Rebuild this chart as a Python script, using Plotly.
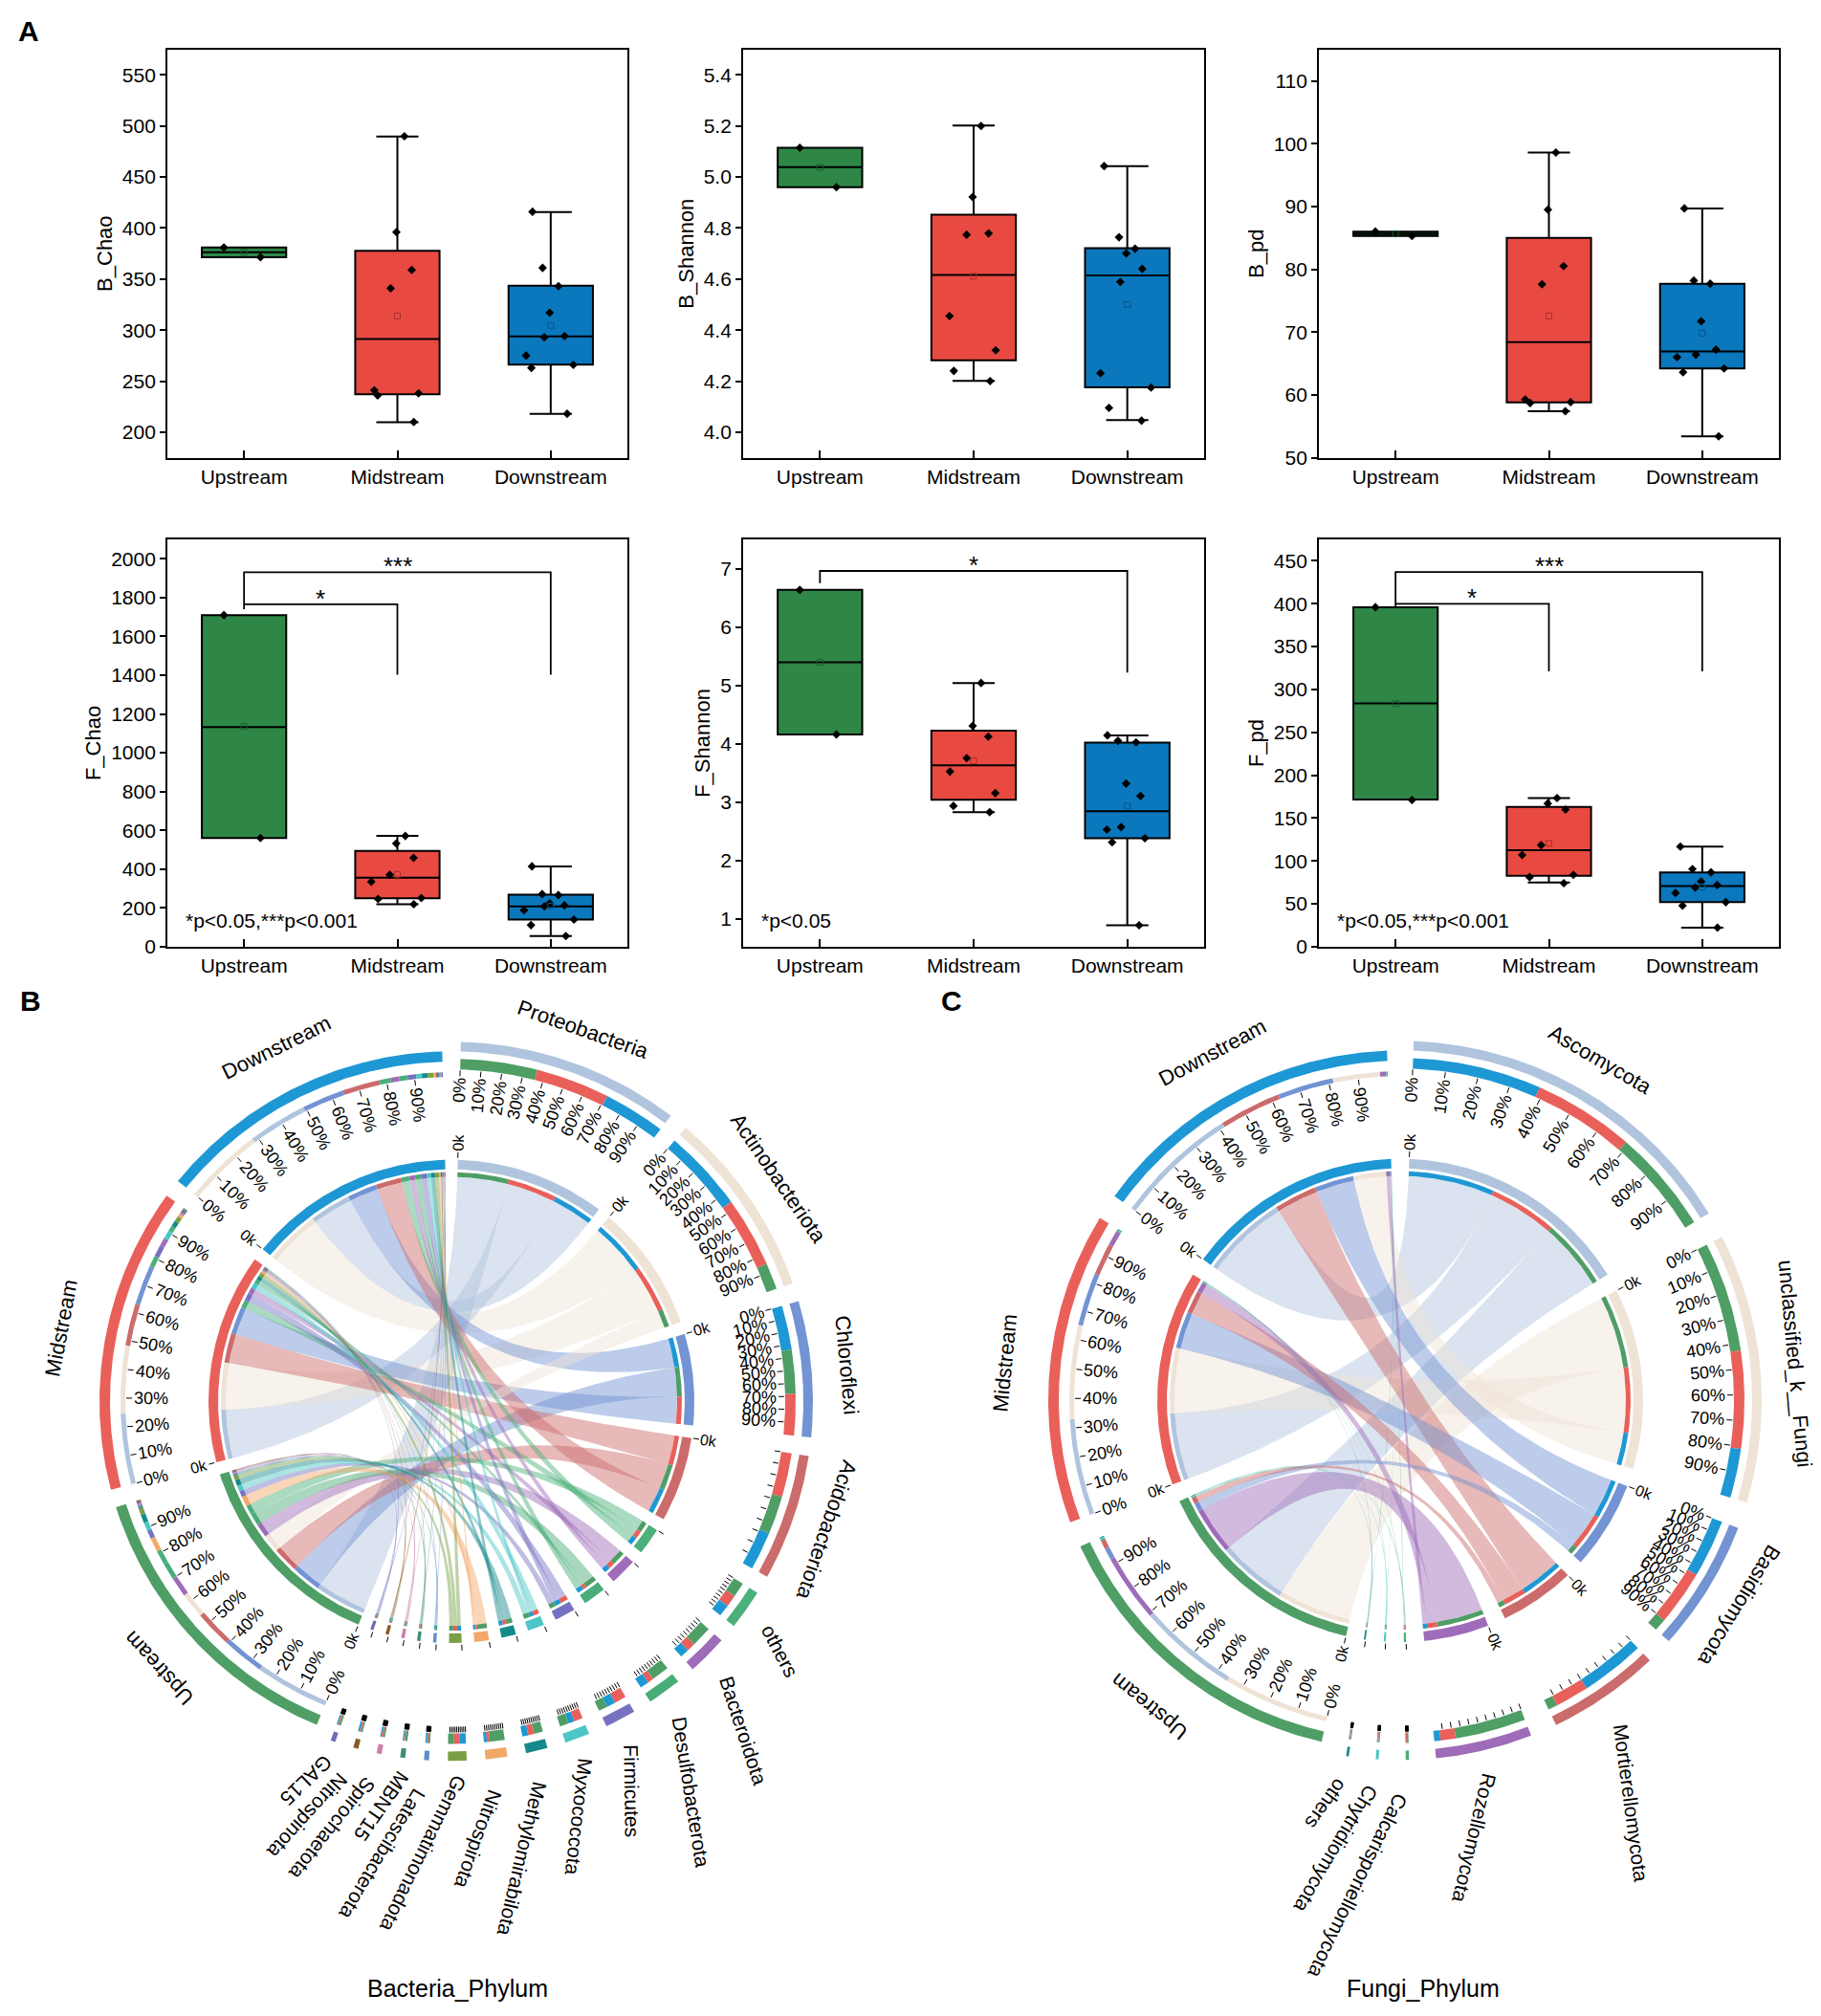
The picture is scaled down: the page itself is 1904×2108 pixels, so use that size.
import numpy as np
import plotly.graph_objects as go

W, H = 1904, 2108
FONT = "Liberation Sans, Arial, Helvetica, sans-serif"

groups = ["Upstream", "Midstream", "Downstream"]
box_fill = ["#2e8746", "#e84a42", "#0b77bc"]
mean_edge = ["#1c5c2e", "#a8302a", "#07568a"]

# ---------------- A: alpha diversity ----------------
# points per group
b_chao_pts = [[381.0, 371.5],
              [490, 396, 359, 341, 238, 236, 241, 210],
              [416, 361, 343, 317, 293, 294, 275, 263, 266, 218]]
# q1, median, q3, lower whisker, upper whisker
b_chao_box = [[371.5, 376.3, 381.0, 371.5, 381.0],
              [237.2, 291.3, 377.7, 209.8, 489.7],
              [266.1, 293.8, 343.5, 218.0, 415.7]]

b_shannon_pts = [[5.115, 4.96],
                 [5.20, 4.922, 4.774, 4.779, 4.455, 4.321, 4.24, 4.20],
                 [5.043, 4.764, 4.719, 4.701, 4.64, 4.589, 4.231, 4.175, 4.095, 4.045]]
b_shannon_box = [[4.96, 5.039, 5.115, 4.96, 5.115],
                 [4.282, 4.616, 4.852, 4.201, 5.202],
                 [4.176, 4.614, 4.721, 4.047, 5.043]]

b_pd_pts = [[86.0, 85.3],
            [98.6, 89.5, 80.5, 77.6, 59.25, 58.85, 58.7, 57.4],
            [89.7, 78.2, 77.7, 71.7, 67.2, 66.4, 66.0, 64.2, 63.6, 53.4]]
b_pd_box = [[85.3, 85.65, 86.0, 85.3, 86.0],
            [58.8, 68.4, 85.0, 57.4, 98.6],
            [64.2, 66.9, 77.7, 53.4, 89.7]]

f_chao_pts = [[1710, 560],
              [571, 532, 458, 371, 335, 246, 251, 219],
              [414, 271, 266, 224, 213, 208, 188, 140, 111, 55]]
f_chao_box = [[560, 1132, 1710, 560, 1710],
              [249, 355, 494, 219, 571],
              [140, 208, 268, 55, 414]]

f_shannon_pts = [[6.635, 4.158],
                 [5.04, 4.305, 4.12, 3.75, 3.52, 3.151, 2.933, 2.824],
                 [4.142, 4.049, 4.022, 3.315, 3.102, 2.569, 2.525, 2.378, 2.308, 0.887]]
f_shannon_box = [[4.158, 5.394, 6.635, 4.158, 6.635],
                 [3.04, 3.63, 4.224, 2.824, 5.04],
                 [2.378, 2.841, 4.017, 0.887, 4.142]]

f_pd_pts = [[396, 171],
            [173.3, 167, 160, 118.5, 107, 83.7, 81.1, 74.1],
            [116.7, 90.4, 86.7, 75.9, 71.9, 68.9, 62.6, 51.9, 47.8, 22.2]]
f_pd_box = [[171.5, 283.7, 395.9, 171.5, 395.9],
            [82.6, 112.6, 163, 74.8, 173.3],
            [51.9, 70.7, 86.7, 22.2, 116.7]]

# significance brackets: group a, group b, bar level, left leg end, right leg end, label
f_chao_sig = [(0, 2, 1931, 1740, 1402, "***"), (0, 1, 1766, 1766, 1402, "*")]
f_shannon_sig = [(0, 2, 6.96, 6.75, 5.22, "*")]
f_pd_sig = [(0, 2, 437, 396, 321, "***"), (0, 1, 400, 400, 321, "*")]

# ---------------- B: bacteria phylum relative abundance (%) ----------------
bac_phyla = ["Proteobacteria", "Actinobacteriota", "Chloroflexi", "Acidobacteriota", "others",
             "Bacteroidota", "Desulfobacterota", "Firmicutes", "Myxococcota", "Methylomirabilota",
             "Nitrospirota", "Gemmatimonadota", "Latescibacterota", "MBNT15", "Spirochaetota",
             "Nitrospinota", "GAL15"]
bac_up = [26, 9, 15, 13, 5, 7, 6, 3, 3, 3, 5, 2, 0.6, 0.8, 0.6, 0.5, 0.6]
bac_mid = [25, 24, 14, 15, 4, 3, 2, 4, 3, 2, 1, 2, 0.5, 0.4, 0.6, 0.5, 0.5]
bac_down = [21, 28, 15, 13, 4, 3, 3, 3, 2, 2, 1, 2, 0.5, 0.4, 0.4, 0.6, 0.4]
bac_colors = ["#b0c4de", "#efe3d6", "#7393d3", "#cc6b6b", "#4bb07a", "#9e6cb8", "#48ad78",
              "#7672c2", "#4cc6c6", "#16898a", "#f2a868", "#7aa044", "#5d8fc9", "#3e8e6e",
              "#c97fa9", "#8b5a2b", "#6b6bb8"]
bac_link_order = ["UMD", "DMU", "DUM", "MUD", "UMD", "UMD", "UMD", "MDU", "MDU", "UMD",
                  "UMD", "DMU", "UMD", "UMD", "UMD", "UMD", "UMD"]

# ---------------- C: fungi phylum relative abundance (%) ----------------
fun_phyla = ["Ascomycota", "unclassified_k__Fungi", "Basidiomycota", "Mortierellomycota",
             "Rozellomycota", "Calcarisporiellomycota", "Chytridiomycota", "others"]
fun_up = [34, 36, 4, 3, 23, 0.5, 0.4, 0.3]
fun_mid = [33, 32, 18, 11, 5, 0.3, 0.3, 0.3]
fun_down = [42, 16, 19, 21, 2, 0.2, 0.2, 0.2]
fun_colors = ["#b0c4de", "#efe3d6", "#7393d3", "#cc6b6b", "#9e6cb8", "#4bb07a", "#4cc6c6", "#16898a"]
fun_link_order = ["DMU", "UMD", "DMU", "DMU", "UMD", "UMD", "UMD", "UMD"]

grp_chord_colors = ["#4e9e66", "#e9605a", "#1e98d4"]

fig = go.Figure()
annos = []
shapes = []


def fx(x):
    return x / W


def fy(y):
    return 1 - y / H


# ---------------- box plots ----------------
col_px = [(167, 648), (769, 1251), (1371, 1852)]
row_px = [(44, 473), (559, 987)]

note2 = "*p&lt;0.05,***p&lt;0.001"
panels = [
    dict(t="B_Chao", pts=b_chao_pts, box=b_chao_box, rng=[175, 575], t0=200, dt=50, fmt="", sig=[], note=None),
    dict(t="B_Shannon", pts=b_shannon_pts, box=b_shannon_box, rng=[3.9, 5.5], t0=4.0, dt=0.2, fmt=".1f", sig=[], note=None),
    dict(t="B_pd", pts=b_pd_pts, box=b_pd_box, rng=[50, 115], t0=50, dt=10, fmt="", sig=[], note=None),
    dict(t="F_Chao", pts=f_chao_pts, box=f_chao_box, rng=[0, 2100], t0=0, dt=200, fmt="", sig=f_chao_sig, note=note2),
    dict(t="F_Shannon", pts=f_shannon_pts, box=f_shannon_box, rng=[0.52, 7.5], t0=1, dt=1, fmt="", sig=f_shannon_sig, note="*p&lt;0.05"),
    dict(t="F_pd", pts=f_pd_pts, box=f_pd_box, rng=[0, 475], t0=0, dt=50, fmt="", sig=f_pd_sig, note=note2),
]

layout_axes = {}
for k, p in enumerate(panels):
    r, c = divmod(k, 3)
    n = k + 1
    xa = "x" if n == 1 else f"x{n}"
    ya = "y" if n == 1 else f"y{n}"
    for i in range(3):
        q1, med, q3, lo, hi = p["box"][i]
        fig.add_trace(go.Box(
            x=[i], q1=[q1], median=[med], q3=[q3], lowerfence=[lo], upperfence=[hi],
            y=[p["pts"][i]], orientation="v", boxpoints="all", jitter=0.75, pointpos=0,
            width=0.55, whiskerwidth=0.5, fillcolor=box_fill[i],
            line=dict(color="black", width=2),
            marker=dict(symbol="diamond", size=7, color="black", line=dict(width=0)),
            xaxis=xa, yaxis=ya, showlegend=False, hoverinfo="skip"))
        fig.add_trace(go.Scatter(
            x=[i], y=[float(np.mean(p["pts"][i]))], mode="markers",
            marker=dict(symbol="square-open", size=6, color=mean_edge[i], line=dict(width=1)),
            xaxis=xa, yaxis=ya, showlegend=False, hoverinfo="skip"))

    x0p, x1p = col_px[c]
    y0p, y1p = row_px[r]
    layout_axes["xaxis" if n == 1 else f"xaxis{n}"] = dict(
        domain=[fx(x0p), fx(x1p)], anchor=ya, range=[-0.5, 2.5],
        tickmode="array", tickvals=[0, 1, 2], ticktext=groups,
        ticks="inside", ticklen=8, tickwidth=1.5, tickcolor="black",
        showline=True, mirror=True, linecolor="black", linewidth=1.8,
        showgrid=False, zeroline=False, tickfont=dict(size=21, color="black"))
    layout_axes["yaxis" if n == 1 else f"yaxis{n}"] = dict(
        domain=[fy(y1p), fy(y0p)], anchor=xa, range=p["rng"],
        tick0=p["t0"], dtick=p["dt"], tickformat=p["fmt"],
        ticks="outside", ticklen=6, tickwidth=1.5, tickcolor="black",
        showline=True, mirror=True, linecolor="black", linewidth=1.8,
        showgrid=False, zeroline=False, tickfont=dict(size=21, color="black"),
        title=dict(text=p["t"], font=dict(size=22, color="black"), standoff=4))

    for (a, b, yl, yle, yre, lab) in p["sig"]:
        shapes.append(dict(type="path", xref=xa, yref=ya,
                           path=f"M {a},{yle} L {a},{yl} L {b},{yl} L {b},{yre}",
                           line=dict(color="black", width=1.8)))
        annos.append(dict(x=(a + b) / 2, y=yl, xref=xa, yref=ya, text=lab, showarrow=False,
                          xanchor="center", yanchor="middle", yshift=6,
                          font=dict(size=26, color="black")))
    if p["note"]:
        annos.append(dict(x=0.035, y=0.065, xref=f"{xa} domain", yref=f"{ya} domain",
                          text=p["note"], showarrow=False, xanchor="left", yanchor="middle",
                          font=dict(size=21, color="black")))

# ---------------- chord diagrams ----------------
R_OUT_P = (368, 378)
R_OUT_S = (357, 368)
R_COMP_P = (349, 360)
R_COMP_S = (341, 346)
R_IN = (244, 254)
R_STRIPE = (236, 241)
R_LINK = 236
LETTER = {"U": 0, "M": 1, "D": 2}


def hex_rgba(h, a):
    h = h.lstrip("#")
    return f"rgba({int(h[0:2], 16)},{int(h[2:4], 16)},{int(h[4:6], 16)},{a})"


def pol(r, t):
    tr = np.radians(t)
    return r * np.sin(tr), r * np.cos(tr)


def arc(r, t0, t1):
    m = max(2, int(abs(t1 - t0) / 0.4) + 2)
    t = np.radians(np.linspace(t0, t1, m))
    return r * np.sin(t), r * np.cos(t)


def band(r0, r1, t0, t1):
    xo, yo = arc(r1, t0, t1)
    xi, yi = arc(r0, t1, t0)
    return np.r_[xo, xi, xo[:1]], np.r_[yo, yi, yo[:1]]


def ribbon(r, a1, a2, b1, b2):
    xa_, ya_ = arc(r, a1, a2)
    xb_, yb_ = arc(r, b1, b2)
    t = np.linspace(0, 1, 50)
    # quadratic bezier through the centre
    c1x = (1 - t) ** 2 * xa_[-1] + t ** 2 * xb_[0]
    c1y = (1 - t) ** 2 * ya_[-1] + t ** 2 * yb_[0]
    c2x = (1 - t) ** 2 * xb_[-1] + t ** 2 * xa_[0]
    c2y = (1 - t) ** 2 * yb_[-1] + t ** 2 * ya_[0]
    return np.r_[xa_, c1x, xb_, c2x], np.r_[ya_, c1y, yb_, c2y]


def poly(xa, ya, xs, ys, color):
    fig.add_trace(go.Scatter(x=xs, y=ys, mode="lines", fill="toself", fillcolor=color,
                             line=dict(width=0), hoverinfo="skip", showlegend=False,
                             xaxis=xa, yaxis=ya))


def norm(a):
    return ((a + 180) % 360) - 180


def radial_rot(t):
    t = t % 360
    return t - 90 if t < 180 else t - 270


def text(xa, ya, x, y, s, ang, size):
    annos.append(dict(x=x, y=y, xref=xa, yref=ya, text=s, showarrow=False,
                      xanchor="center", yanchor="middle", textangle=norm(ang),
                      font=dict(size=size, color="black")))


def draw_chord(xa, ya, phyla, rows, phy_cols, link_order, gap, n_pct, n_zero, n_tan):
    mat = np.array(rows, dtype=float)
    nP = len(phyla)
    names = phyla + groups
    widths = list(mat.sum(axis=0)) + list(mat.sum(axis=1))
    n = len(names)
    k = (360 - n * gap) / sum(widths)
    starts, ends = [], []
    cur = gap / 2
    for w in widths:
        starts.append(cur)
        ends.append(cur + w * k)
        cur = ends[-1] + gap

    p_slot = {}
    for j in range(nP):
        cur = starts[j]
        for ch in link_order[j]:
            g = LETTER[ch]
            w = mat[g, j] * k
            p_slot[(g, j)] = (cur, cur + w)
            cur += w
    s_slot = {}
    for g in range(3):
        cur = starts[nP + g]
        for j in sorted(range(nP), key=lambda jj: -mat[g, jj]):
            w = mat[g, j] * k
            s_slot[(g, j)] = (cur, cur + w)
            cur += w

    # ribbons, big first so small ones stay visible
    pairs = sorted(((g, j) for g in range(3) for j in range(nP)), key=lambda gj: -mat[gj])
    for g, j in pairs:
        a1, a2 = s_slot[(g, j)]
        b1, b2 = p_slot[(g, j)]
        xs, ys = ribbon(R_LINK, a1, a2, b1, b2)
        poly(xa, ya, xs, ys, hex_rgba(phy_cols[j], 0.47))

    # sector tracks
    for idx in range(n):
        isp = idx < nP
        col = phy_cols[idx] if isp else grp_chord_colors[idx - nP]
        ro = R_OUT_P if isp else R_OUT_S
        xs, ys = band(ro[0], ro[1], starts[idx], ends[idx])
        poly(xa, ya, xs, ys, col)
        xs, ys = band(R_IN[0], R_IN[1], starts[idx], ends[idx])
        poly(xa, ya, xs, ys, col)
    for (g, j), (b1, b2) in p_slot.items():
        xs, ys = band(R_COMP_P[0], R_COMP_P[1], b1, b2)
        poly(xa, ya, xs, ys, grp_chord_colors[g])
        xs, ys = band(R_STRIPE[0], R_STRIPE[1], b1, b2)
        poly(xa, ya, xs, ys, grp_chord_colors[g])
    for (g, j), (a1, a2) in s_slot.items():
        xs, ys = band(R_COMP_S[0], R_COMP_S[1], a1, a2)
        poly(xa, ya, xs, ys, phy_cols[j])
        xs, ys = band(R_STRIPE[0], R_STRIPE[1], a1, a2)
        poly(xa, ya, xs, ys, phy_cols[j])

    # ticks
    tx, ty = [], []
    for idx in range(n):
        rc = R_COMP_P[0] if idx < nP else R_COMP_S[0]
        for q in range(10):
            t = starts[idx] + (ends[idx] - starts[idx]) * q / 10
            x0, y0 = pol(rc - 1, t)
            x1, y1 = pol(rc - 7, t)
            tx += [x0, x1, None]
            ty += [y0, y1, None]
        x0, y0 = pol(256, starts[idx])
        x1, y1 = pol(262, starts[idx])
        tx += [x0, x1, None]
        ty += [y0, y1, None]
    fig.add_trace(go.Scatter(x=tx, y=ty, mode="lines", line=dict(color="black", width=1),
                             hoverinfo="skip", showlegend=False, xaxis=xa, yaxis=ya))

    # percent labels
    fs = 18
    for idx in range(n):
        if not (idx < n_pct or idx >= nP):
            continue
        rc = R_COMP_P[0] if idx < nP else R_COMP_S[0]
        for q in range(10):
            t = starts[idx] + (ends[idx] - starts[idx]) * q / 10
            s = f"{q * 10}%"
            L = fs * (0.556 * len(str(q * 10)) + 0.889)
            x, y = pol(rc - 9 - L / 2, t)
            text(xa, ya, x, y, s, radial_rot(t), fs)
    # 0k labels
    for idx in range(n):
        if not (idx < n_zero or idx >= nP):
            continue
        L = 16 * 1.06
        x, y = pol(264 + L / 2, starts[idx])
        text(xa, ya, x, y, "0k", radial_rot(starts[idx]), 16)

    # sector names
    fsn = 21
    for idx, name in enumerate(names):
        tm = (starts[idx] + ends[idx]) / 2
        if idx < n_tan or idx >= nP:
            x, y = pol(415, tm)
            text(xa, ya, x, y, name, tm, 22)
        else:
            d = tm - 90 + 27
            L = len(name) * 0.52 * fsn
            x0, y0 = pol(402, tm)
            x = x0 + L / 2 * np.cos(np.radians(d))
            y = y0 - L / 2 * np.sin(np.radians(d))
            text(xa, ya, x, y, name, d, fsn)


chords = [
    dict(xa="x7", ya="y7", xpx=(0, 952), cx=464, cy=1465, phyla=bac_phyla,
         rows=[bac_up, bac_mid, bac_down], cols=bac_colors, order=bac_link_order,
         gap=3.0, n_pct=3, n_zero=4, n_tan=4),
    dict(xa="x8", ya="y8", xpx=(952, 1904), cx=1456, cy=1464, phyla=fun_phyla,
         rows=[fun_up, fun_mid, fun_down], cols=fun_colors, order=fun_link_order,
         gap=4.3, n_pct=3, n_zero=5, n_tan=3),
]
top_px = 1030
for ch in chords:
    draw_chord(ch["xa"], ch["ya"], ch["phyla"], ch["rows"], ch["cols"], ch["order"],
               ch["gap"], ch["n_pct"], ch["n_zero"], ch["n_tan"])
    n = ch["xa"][1:]
    layout_axes[f"xaxis{n}"] = dict(domain=[fx(ch["xpx"][0]), fx(ch["xpx"][1])], anchor=ch["ya"],
                                    range=[ch["xpx"][0] - ch["cx"], ch["xpx"][1] - ch["cx"]],
                                    visible=False, showgrid=False, zeroline=False)
    layout_axes[f"yaxis{n}"] = dict(domain=[0, fy(top_px)], anchor=ch["xa"],
                                    range=[-(H - ch["cy"]), ch["cy"] - top_px],
                                    visible=False, showgrid=False, zeroline=False)

# panel letters and chord captions
for s, x, y in [("A", 22, 25), ("B", 24, 1044), ("C", 987, 1044)]:
    annos.append(dict(x=fx(x), y=fy(y), xref="paper", yref="paper", text=f"<b>{s}</b>",
                      showarrow=False, xanchor="center", yanchor="middle",
                      font=dict(size=30, color="black")))
for s, x, y in [("Bacteria_Phylum", 470, 2082), ("Fungi_Phylum", 1480, 2082)]:
    annos.append(dict(x=fx(x), y=fy(y), xref="paper", yref="paper", text=s,
                      showarrow=False, xanchor="center", yanchor="middle",
                      font=dict(size=25, color="black")))

fig.update_layout(
    width=W, height=H, margin=dict(l=0, r=0, t=0, b=0),
    paper_bgcolor="white", plot_bgcolor="white",
    font=dict(family=FONT, color="black"),
    showlegend=False, boxmode="overlay",
    annotations=annos, shapes=shapes, **layout_axes)

fig.write_html("out.html")
